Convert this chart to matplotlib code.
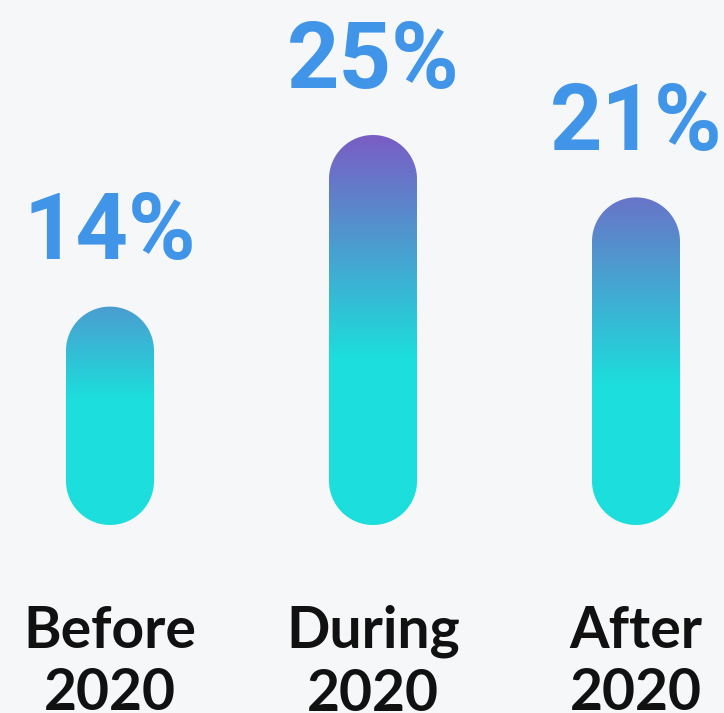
import numpy as np
import matplotlib
matplotlib.use("Agg")
import matplotlib.pyplot as plt
from matplotlib.patches import Polygon
from matplotlib.colors import to_rgb

categories = ["Before\n2020", "During\n2020", "After\n2020"]
values = [14, 25, 21]
value_labels = ["14%", "25%", "21%"]

BG = "#f5f7f9"
CYAN = "#1cdedc"
PURPLE = "#7a5cc4"
LABEL_BLUE = "#4195e8"

W, H = 724, 713
fig = plt.figure(figsize=(W / 100, H / 100), dpi=100, facecolor=BG)
ax = fig.add_axes([0, 0, 1, 1])
ax.set_facecolor(BG)
ax.axis("off")

px_x = 263.0     # pixels per category unit
px_y = 15.6      # pixels per value unit
x0_px = 110.0    # pixel of first category center
base_px = 525.0  # pixel (from top) of bar bottom
bottom_from_bottom = H - base_px
xlim = (-x0_px / px_x, (W - x0_px) / px_x)
ylim = (-bottom_from_bottom / px_y, (H - bottom_from_bottom) / px_y)
ax.set_xlim(*xlim)
ax.set_ylim(*ylim)

bar_w_px = 88.0
bw = bar_w_px / px_x
rx = bw / 2
ry = (bar_w_px / 2) / px_y

c_cyan = np.array(to_rgb(CYAN))
c_purple = np.array(to_rgb(PURPLE))


def capsule(xc, top):
    th_top = np.linspace(0, np.pi, 60)
    th_bot = np.linspace(np.pi, 2 * np.pi, 60)
    xs = np.concatenate([xc + rx * np.cos(th_top), xc + rx * np.cos(th_bot)])
    ys = np.concatenate([top - ry + ry * np.sin(th_top), ry + ry * np.sin(th_bot)])
    return np.column_stack([xs, ys])


for i, (v, lab) in enumerate(zip(values, value_labels)):
    patch = Polygon(capsule(i, v), closed=True, facecolor="none", edgecolor="none")
    ax.add_patch(patch)
    w = min(1.0, 0.5 + 0.045 * (v - 14))
    top = w * c_purple + (1 - w) * c_cyan
    frac = 0.42 if v < 18 else 0.57
    n = 256
    t = np.linspace(0, 1, n)  # 0 bottom, 1 top
    g = np.clip((t - (1 - frac)) / frac, 0, 1)
    cols = (1 - g)[:, None] * c_cyan + g[:, None] * top
    img = cols[:, None, :]
    im = ax.imshow(img, extent=[i - bw / 2, i + bw / 2, 0, v], origin="lower",
                   aspect="auto", interpolation="bilinear", zorder=2)
    im.set_clip_path(patch)
    ax.annotate(lab, xy=(i, v), xytext=(0, 34), textcoords="offset points",
                ha="center", va="baseline", fontsize=66, fontweight="bold",
                family="Roboto", color=LABEL_BLUE)
    ax.text(i, -(605 - base_px) / px_y, categories[i], ha="center",
            va="top", fontsize=41, fontweight="bold", family="Lato",
            color="#111111", linespacing=1.22)

ax.set_xlim(*xlim)
ax.set_ylim(*ylim)
fig.savefig("out.png", dpi=100, facecolor=BG)
